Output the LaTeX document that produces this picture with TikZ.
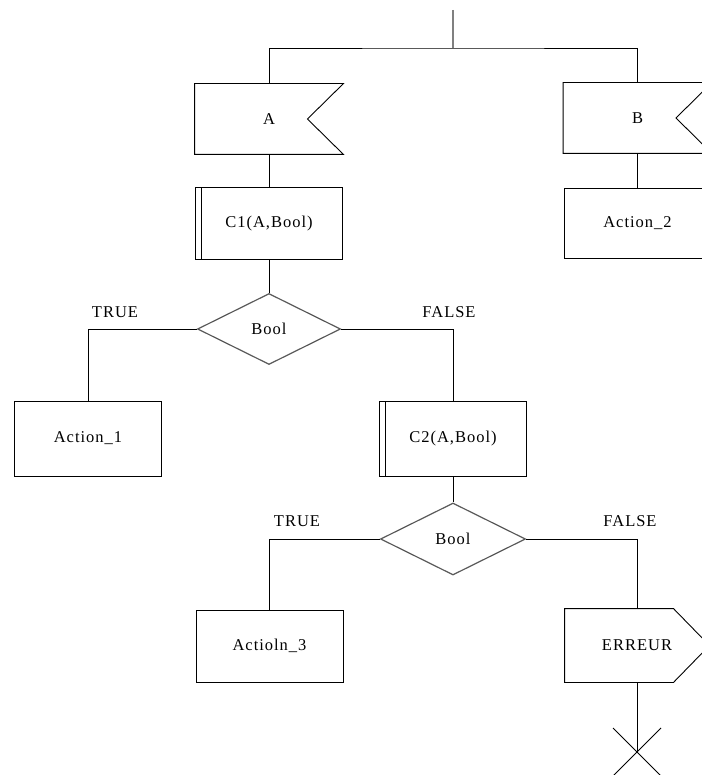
\documentclass[tikz,border=0pt]{standalone}
\usepackage{fontspec}
\setmainfont[LetterSpace=6]{Liberation Serif}
\usetikzlibrary{shapes.geometric}

\begin{document}
\begin{tikzpicture}[x=1pt,y=-1pt,
  font=\fontsize{16.5}{18}\selectfont,
  every node/.style={inner sep=0pt},
  box/.style={draw,line width=0.9pt,minimum width=147pt,minimum height=72pt},
  subbox/.style={box,path picture={\draw[line width=0.9pt]
      ([xshift=6pt]path picture bounding box.north west) --
      ([xshift=6pt]path picture bounding box.south west);}},
  recv/.style={box,draw=none,append after command={\pgfextra{
      \draw[line width=0.9pt] (\tikzlastnode.north west) -- (\tikzlastnode.north east)
        -- ([xshift=-36pt]\tikzlastnode.east) -- (\tikzlastnode.south east)
        -- (\tikzlastnode.south west) -- cycle;}}},
  send/.style={box,draw=none,append after command={\pgfextra{
      \draw[line width=0.9pt] (\tikzlastnode.north west)
        -- ([xshift=-36pt]\tikzlastnode.north east) -- (\tikzlastnode.east)
        -- ([xshift=-36pt]\tikzlastnode.south east)
        -- (\tikzlastnode.south west) -- cycle;}}},
  test/.style={diamond,draw=gray!70!black,line width=1.2pt,
    minimum width=143pt,minimum height=71pt},
  wire/.style={line width=0.9pt}]
  \useasboundingbox (0,0) rectangle (701,775);

  \coordinate (top) at (453,10);
  \coordinate (split) at (453,48);
  \draw[gray,line width=1.8pt] (top) -- (split);

  \node[recv,minimum width=148pt,minimum height=70pt] (A) at (269,119) {A};
  \node[subbox] (C1) at (269,223.5) {C1(A,Bool)};
  \node[recv,minimum width=148pt,minimum height=70pt] (B) at (637.5,118) {B};
  \node[box,minimum height=70pt] (act2) at (637.5,223) {Action\_2};

  \draw[wire] (A.north) |- (split) -| (B.north);
  \draw[wire] (A.south) -- (C1.north);
  \draw[wire] (B.south) -- (act2.north);

  \node[test] (d1) at (269,329) {Bool};
  \draw[wire] (C1.south) -- (d1.north);

  \node[box,minimum height=75pt] (act1) at (88,438.5) {Action\_1};
  \node (t1) at (115,312) {TRUE};
  \draw[wire] (d1.west) -| (act1.north);

  \node[subbox,minimum height=75pt] (C2) at (453,438.5) {C2(A,Bool)};
  \node (f1) at (449,312) {FALSE};
  \draw[wire] (d1.east) -| (C2.north);

  \node[test,minimum width=145pt,minimum height=72pt] (d2) at (453,539) {Bool};
  \draw[wire] (C2.south) -- (d2.north);

  \node[box] (act3) at (269.5,646) {Actioln\_3};
  \node (t2) at (297,521) {TRUE};
  \draw[wire] (d2.west) -| (act3.north);

  \node[send,minimum width=144pt,minimum height=73pt] (err) at (637,645.5) {ERREUR};
  \node (f2) at (630,521) {FALSE};
  \draw[wire] (d2.east) -| (err.north);

  \coordinate (stop) at (637,752);
  \draw[wire] (err.south) -- (stop);
  \draw[wire] (stop) ++(-24,-24) -- ++(48,48);
  \draw[wire] (stop) ++(24,-24) -- ++(-48,48);
\end{tikzpicture}
\end{document}
